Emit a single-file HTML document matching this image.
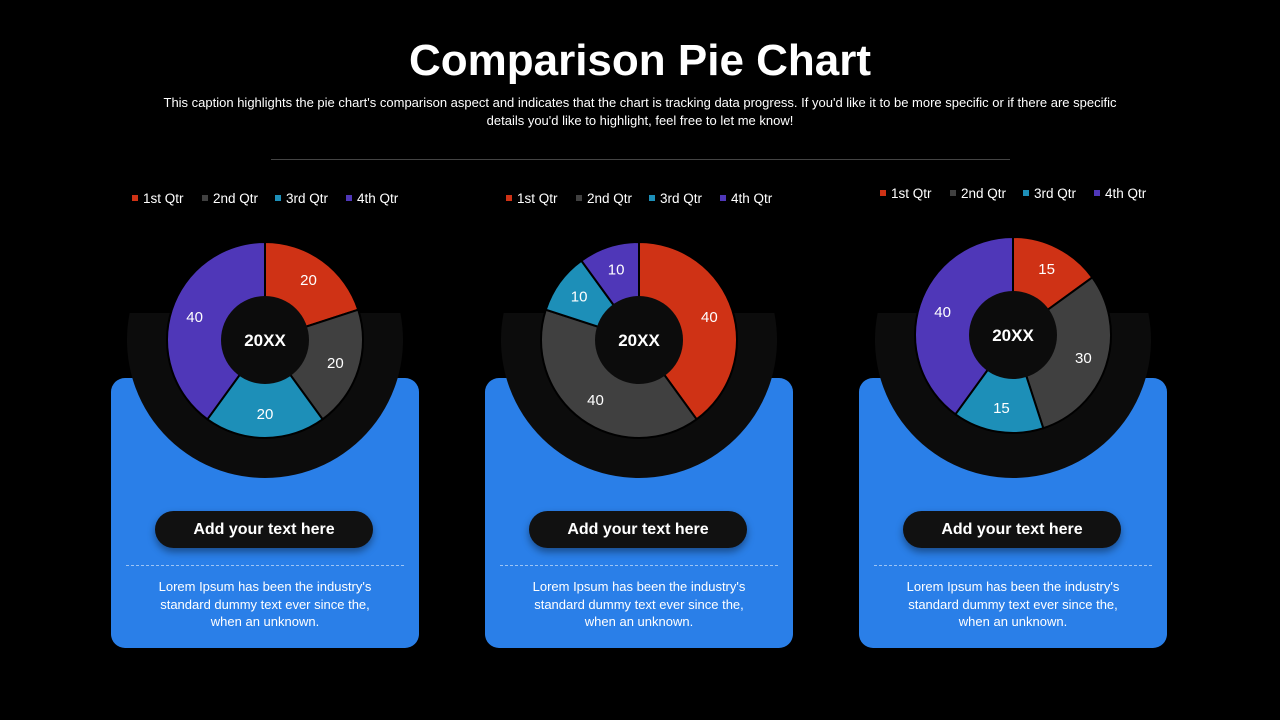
<!DOCTYPE html>
<html><head><meta charset="utf-8"><style>
body{margin:0;width:1280px;height:720px;background:#000;font-family:"Liberation Sans",sans-serif;color:#fff;position:relative;overflow:hidden}
.title{position:absolute;top:36px;left:0;width:1280px;text-align:center;font-size:44px;font-weight:bold}
.cap{position:absolute;top:94px;left:150px;width:980px;text-align:center;font-size:13px;line-height:18px}
.rule{position:absolute;top:159px;left:271px;width:739px;height:1px;background:#444}
.card{position:absolute;top:378px;width:308px;height:270px;background:#2a7fe8;border-radius:14px}
.btn{position:absolute;top:133px;left:44px;width:218px;height:37px;background:#111;border-radius:19px;text-align:center;line-height:37px;font-weight:bold;font-size:16px;box-shadow:0 4px 8px rgba(0,0,0,.4)}
.dash{position:absolute;top:187px;left:15px;width:278px;border-top:1px dashed #9cc4f5}
.txt{position:absolute;top:200px;left:0;width:308px;text-align:center;font-size:13px;line-height:17.5px}
svg{position:absolute;left:0;top:0}
</style></head><body>
<div class="title">Comparison Pie Chart</div>
<div class="cap">This caption highlights the pie chart's comparison aspect and indicates that the chart is tracking data progress. If you'd like it to be more specific or if there are specific details you'd like to highlight, feel free to let me know!</div>
<div class="rule"></div>
<div class="card" style="left:111px"><div class="btn">Add your text here</div><div class="dash"></div><div class="txt">Lorem Ipsum has been the industry's<br>standard dummy text ever since the,<br>when an unknown.</div></div>
<div class="card" style="left:485px"><div class="btn">Add your text here</div><div class="dash"></div><div class="txt">Lorem Ipsum has been the industry's<br>standard dummy text ever since the,<br>when an unknown.</div></div>
<div class="card" style="left:859px"><div class="btn">Add your text here</div><div class="dash"></div><div class="txt">Lorem Ipsum has been the industry's<br>standard dummy text ever since the,<br>when an unknown.</div></div>
<svg id="s" width="1280" height="720"></svg>
<script>
const categories=["1st Qtr","2nd Qtr","3rd Qtr","4th Qtr"];
const series1=[20,20,20,40];
const series2=[40,40,10,10];
const series3=[15,30,15,40];
const centerLabel="20XX";
const colors=["#cf3215","#404040","#1d8fb8","#4f37b8"];
const NS="http://www.w3.org/2000/svg";
const svg=document.getElementById('s');
function mk(t,a){const e=document.createElementNS(NS,t);for(const k in a)e.setAttribute(k,a[k]);svg.appendChild(e);return e;}
const charts=[{v:series1,cx:265,cy:340,ly:198,lx:132},{v:series2,cx:639,cy:340,ly:198,lx:506},{v:series3,cx:1013,cy:335,ly:193,lx:880}];
charts.forEach((c,ci)=>{
  // backdrop
  const bx=c.cx, by=340, R=138, top=313;
  const dx=Math.sqrt(R*R-(by-top)*(by-top));
  const bd=mk('path',{d:`M${bx-dx},${top} L${bx+dx},${top} A${R},${R} 0 1 1 ${bx-dx},${top} Z`,fill:'#0c0c0c'});
  
  
  const tot=c.v.reduce((a,b)=>a+b,0);
  const r=98, ri=44;
  let a0=0;
  c.v.forEach((v,i)=>{
    const a1=a0+v/tot*2*Math.PI;
    const p=(a,rr)=>[c.cx+rr*Math.sin(a),c.cy-rr*Math.cos(a)];
    const [x0,y0]=p(a0,r),[x1,y1]=p(a1,r);
    const lg=(a1-a0)>Math.PI?1:0;
    const s=mk('path',{d:`M${c.cx},${c.cy} L${x0},${y0} A${r},${r} 0 ${lg} 1 ${x1},${y1} Z`,fill:colors[i],stroke:'#000','stroke-width':2});
    
    
    const [tx,ty]=p((a0+a1)/2,74);
    const t=mk('text',{x:tx,y:ty+5,'text-anchor':'middle','font-size':15,fill:'#fff'});
    t.textContent=v;
    
    
    a0=a1;
  });
  const h=mk('circle',{cx:c.cx,cy:c.cy,r:ri,fill:'#0c0c0c'});
  
  
  const ct=mk('text',{x:c.cx,y:c.cy+6,'text-anchor':'middle','font-size':17,'font-weight':'bold',fill:'#fff'});
  ct.textContent=centerLabel;
  
  
  const offs=[0,70,143,214];
  categories.forEach((cat,i)=>{
    const sq=mk('rect',{x:c.lx+offs[i],y:c.ly-3,width:6,height:6,fill:colors[i]});
    
    
    const lt=mk('text',{x:c.lx+offs[i]+11,y:c.ly+5,'font-size':13.5,fill:'#fff'});
    lt.textContent=cat;
    
    
  });
});
</script>
</body></html>
